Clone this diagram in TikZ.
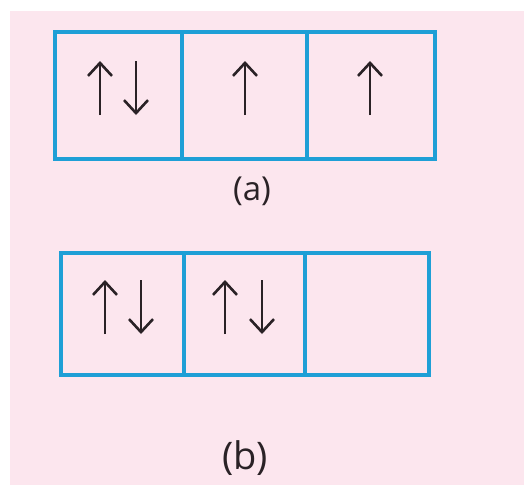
\documentclass[tikz,border=0pt]{standalone}
\usepackage{fontspec}
\setmainfont{Open Sans}
\usetikzlibrary{arrows.meta}
\definecolor{bgpink}{HTML}{FCE6EE}
\definecolor{boxblue}{HTML}{1E9FD6}
\definecolor{ink}{HTML}{2A2226}
\tikzset{
  cell/.style={draw=boxblue, line width=4pt, inner sep=0pt, minimum height=#1},
  spin/.style={draw=ink, line width=2.6pt, -{Straight Barb[length=13pt,width=24pt,line width=2.6pt]}},
  lab/.style={inner sep=0pt, text=ink}
}
\begin{document}
\begin{tikzpicture}[x=1pt,y=-1pt]
\useasboundingbox (0,0) rectangle (524,485);
\fill[white] (0,0) rectangle (524,485);
\fill[bgpink] (10,11) rectangle (524,485);
% (a)
\node[cell=127pt, minimum width=127pt] (a1) at (118.5,95.5) {};
\node[cell=127pt, minimum width=125pt] (a2) at (244.5,95.5) {};
\node[cell=127pt, minimum width=128pt] (a3) at (371,95.5) {};
\draw[spin] (100,115) -- (100,61);
\draw[spin] (136,61) -- (136,115);
\draw[spin] (245,115) -- (245,61);
\draw[spin] (370,115) -- (370,61);
\node[lab, font=\fontsize{33}{38}\selectfont] (la) at (252,191) {(a)};
% (b)
\node[cell=122pt, minimum width=123pt] (b1) at (122.5,314) {};
\node[cell=122pt, minimum width=121pt] (b2) at (244.5,314) {};
\node[cell=122pt, minimum width=124pt] (b3) at (367,314) {};
\draw[spin] (105,334) -- (105,280);
\draw[spin] (141,280) -- (141,334);
\draw[spin] (225,334) -- (225,280);
\draw[spin] (262,280) -- (262,334);
\node[lab, font=\fontsize{38}{44}\selectfont] (lb) at (245,458) {(b)};
\end{tikzpicture}
\end{document}
